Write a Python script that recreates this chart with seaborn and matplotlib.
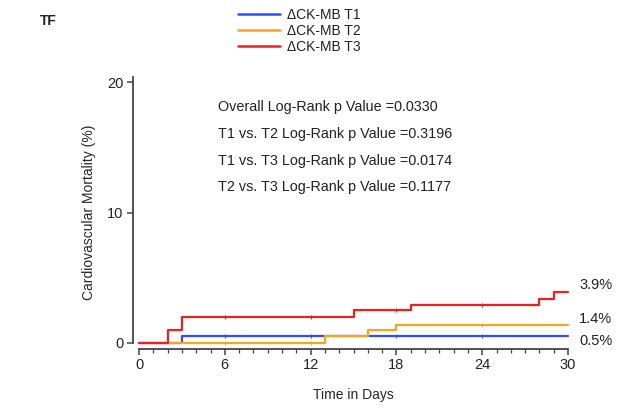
import numpy as np
import pandas as pd
import matplotlib
matplotlib.use("Agg")
import matplotlib.pyplot as plt
import seaborn as sns

# Kaplan-Meier style step curves (day, cumulative %)
groups = ["ΔCK-MB T1", "ΔCK-MB T2", "ΔCK-MB T3"]
t1_days = [0, 3, 30]
t1_pct = [0.0, 0.5, 0.5]
t2_days = [0, 13, 16, 18, 30]
t2_pct = [0.0, 0.5, 1.0, 1.4, 1.4]
t3_days = [0, 2, 3, 15, 19, 28, 29, 30]
t3_pct = [0.0, 1.0, 2.0, 2.5, 2.9, 3.4, 3.9, 3.9]
censor_days = [6, 12, 18, 24]
end_labels = ["0.5%", "1.4%", "3.9%"]
pvalue_lines = [
    "Overall Log-Rank p Value =0.0330",
    "T1 vs. T2 Log-Rank p Value =0.3196",
    "T1 vs. T3 Log-Rank p Value =0.0174",
    "T2 vs. T3 Log-Rank p Value =0.1177",
]
colors = ["#2f4dff", "#f7a51c", "#f01e1e"]

sns.set_theme(style="ticks")
plt.rcParams["font.family"] = ["Liberation Sans", "DejaVu Sans"]
plt.rcParams["text.color"] = "#222222"

frames = []
for name, d, p in zip(groups, [t1_days, t2_days, t3_days], [t1_pct, t2_pct, t3_pct]):
    frames.append(pd.DataFrame({"day": d, "pct": p, "group": name}))
df = pd.concat(frames, ignore_index=True)

fig = plt.figure(figsize=(6.29, 4.08), dpi=100)
ax = fig.add_axes([139 / 629, 1 - 343 / 408, 429 / 629, 261 / 408])

sns.lineplot(data=df, x="day", y="pct", hue="group", palette=colors,
             drawstyle="steps-post", estimator=None, sort=False,
             linewidth=1.6, ax=ax, legend=False, clip_on=False)

# small censor ticks on each curve
for (d, p), c in zip([(t1_days, t1_pct), (t2_days, t2_pct), (t3_days, t3_pct)], colors):
    idx = np.searchsorted(d, censor_days, side="right") - 1
    ax.plot(censor_days, np.array(p)[idx], ls="none", marker="|",
            markersize=3, mew=0.7, color=c, clip_on=False)

ax.set_xlim(0, 30)
ax.set_ylim(0, 20)
ax.set_xticks([0, 6, 12, 18, 24, 30])
ax.set_xticks(range(0, 31), minor=True)
ax.set_yticks([0, 10, 20])
sns.despine(ax=ax, offset={"left": 4, "bottom": 4})
ax.spines["left"].set_bounds(0, 20.4)
for s in ["left", "bottom"]:
    ax.spines[s].set_color("#444444")
    ax.spines[s].set_linewidth(1.3)
ax.tick_params(axis="both", which="major", length=4, width=1.1, color="#444444",
               labelsize=10.5, labelcolor="#222222", pad=3)
ax.tick_params(axis="x", which="minor", length=3, width=0.9, color="#444444")
ax.set_xlabel("Time in Days", fontsize=10, labelpad=11)
ax.set_ylabel("Cardiovascular Mortality (%)", fontsize=10, labelpad=8)

# p-value block
for i, line in enumerate(pvalue_lines):
    ax.text(0.183, 0.905 - i * 0.103, line, transform=ax.transAxes,
            fontsize=10.4, va="center", ha="left")

# end-of-curve percentages
end_vals = [t1_pct[-1], t2_pct[-1], t3_pct[-1]]
end_offsets = [-3, 4, 5]
for lab, v, off in zip(end_labels, end_vals, end_offsets):
    ax.annotate(lab, xy=(30, v), xytext=(8, off), textcoords="offset points",
                fontsize=10.5, va="center", ha="left", annotation_clip=False)

# legend at top
handles = [plt.Line2D([], [], color=c, lw=1.8) for c in colors]
fig.legend(handles, groups, loc="upper left", bbox_to_anchor=(230 / 629, 1.0),
           frameon=False, fontsize=10, handlelength=3.0, handletextpad=0.5,
           labelspacing=0.12, borderaxespad=0.2)

fig.text(40 / 629, 1 - 21 / 408, "TF", fontsize=10, fontweight="bold", va="center")

fig.savefig("out.png", dpi=100)
